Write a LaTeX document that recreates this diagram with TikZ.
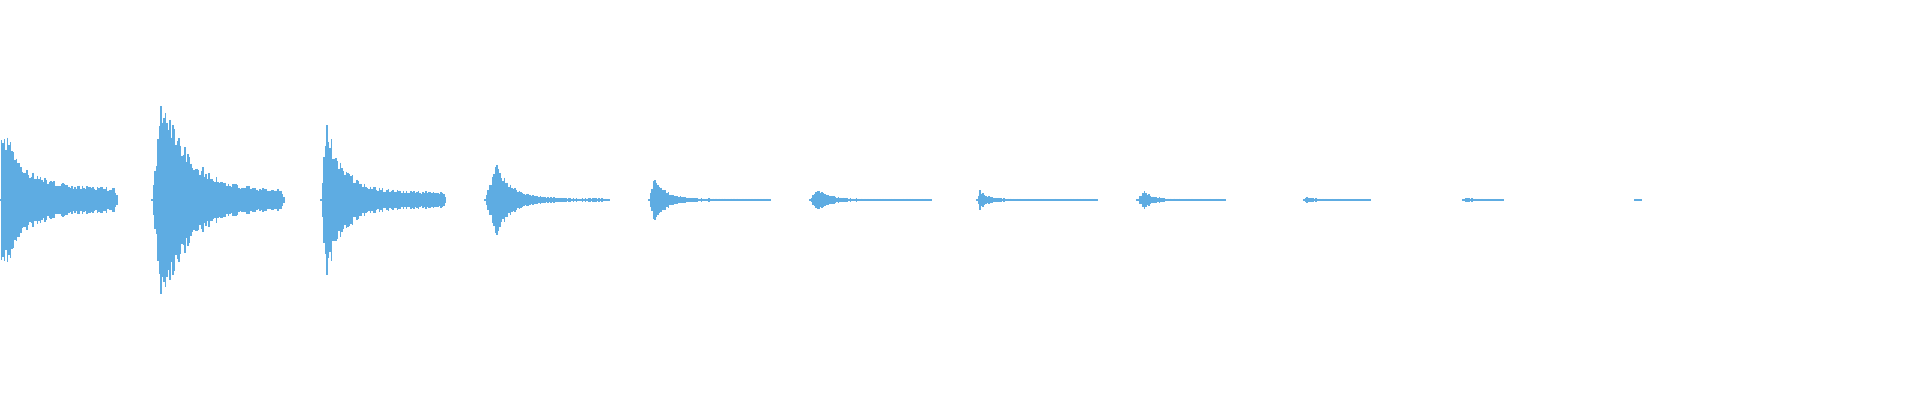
\documentclass[tikz,border=0pt]{standalone}
\definecolor{wavecol}{RGB}{94,172,226}
\tikzset{
    wave/.style = {draw=wavecol, line width=0.9pt},
}
% one decaying burst: start, peak, end, peak amplitude, tail amplitude, decay
\newcommand{\burst}[6]{%
    \pgfmathsetmacro{\xnext}{#1+1.5}
    \foreach \x in {#1,\xnext,...,#3} {
        \pgfmathsetmacro{\env}{ifthenelse(\x<#2, #4*(\x-#1)/(#2-#1+0.01), #5+(#4-#5)*exp(-(\x-#2)/#6))}
        \pgfmathsetmacro{\amp}{max(0.6,\env*min(1,(#3-\x)/5+0.3)*(0.8+0.35*rnd))}
        \draw[wave] (\x,200-\amp) -- (\x,200+\amp);
    }
}
\begin{document}
\begin{tikzpicture}[x=0.5pt,y=-0.5pt]
    \useasboundingbox (0,0) rectangle (1920,400);
    \pgfmathsetseed{7}
    \burst{0}{1}{118}{72}{11}{22}
    \burst{152}{163}{284}{100}{9}{26}
    \burst{321}{326}{446}{70}{7.5}{18}
    \burst{485}{496}{610}{33}{1.4}{16}
    \burst{649}{654}{771}{20}{1.2}{12}
    \burst{810}{817}{932}{11}{1}{12}
    \burst{977}{980}{1098}{9}{1}{8}
    \burst{1137}{1144}{1226}{8}{1}{9}
    \burst{1304}{1306}{1371}{3}{0.9}{8}
    \burst{1463}{1466}{1504}{2}{0.9}{8}
    \burst{1635}{1636}{1641}{1.4}{0.9}{8}
\end{tikzpicture}
\end{document}
